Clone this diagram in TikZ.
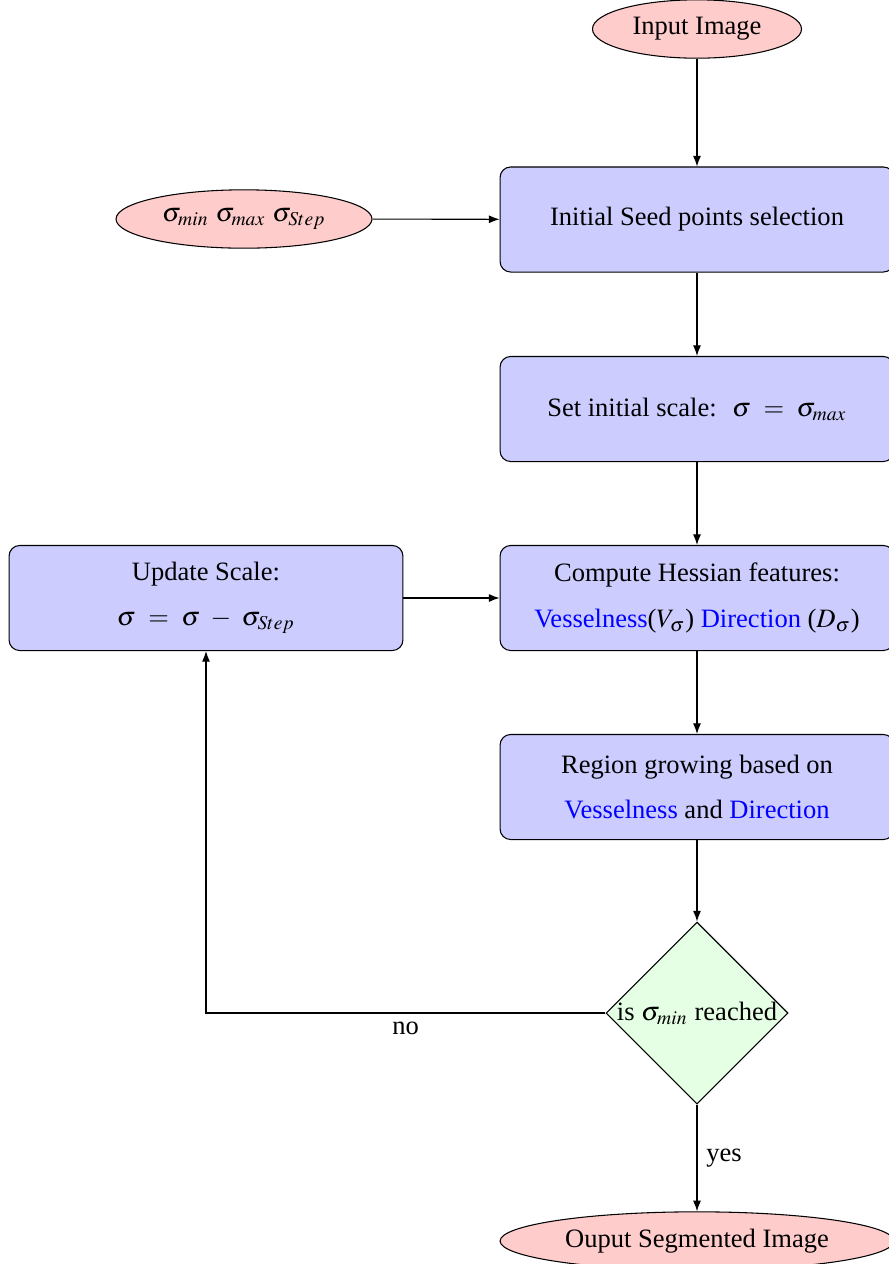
\documentclass[tikz,border=0pt]{standalone}
\usepackage{mathptmx}
\usepackage[no-math]{fontspec}
\setmainfont{Liberation Serif}
\usetikzlibrary{shapes.geometric, arrows.meta}

\tikzset{
    block/.style={rectangle, draw, fill=blue!20, rounded corners, align=center,
        minimum width=148.5pt, minimum height=39.6pt},
    cloud/.style={ellipse, draw, fill=red!20, inner sep=0pt, minimum height=22pt},
    decision/.style={diamond, draw, fill=green!10, inner sep=0pt, minimum size=68.6pt},
    line/.style={draw, -{Latex[length=4pt, width=3pt]}}
}

\begin{document}
\begin{tikzpicture}[x=0.377pt, y=-0.377pt]
        \useasboundingbox (0, 0) rectangle (889, 1264);
        % nodes
        \node [cloud, minimum width=78.8pt] (input) at (697, 29) {Input Image};
        \node [cloud, minimum width=96.5pt] (sigmas) at (244, 219)
            {$\sigma_{min}$ $\sigma_{max}$ $\sigma_{Step}$};
        \node [block] (seed) at (697, 219.5) {Initial Seed points selection};
        \node [block] (init) at (697, 409) {Set initial scale: \ $\sigma\ =\ \sigma_{max}$};
        \node [block] (hessian) at (697, 598)
            {Compute Hessian features:\\[5pt]
             \textcolor{blue}{Vesselness}($V_\sigma$) \textcolor{blue}{Direction} ($D_\sigma$)};
        \node [block] (update) at (206, 598)
            {Update Scale:\\[5pt] $\sigma\ =\ \sigma\ -\ \sigma_{Step}$};
        \node [block] (grow) at (697, 787)
            {Region growing based on\\[5pt]
             \textcolor{blue}{Vesselness} and \textcolor{blue}{Direction}};
        \node [decision] (check) at (697, 1013)
            {\makebox[0pt]{is $\sigma_{min}$ reached}};
        \node [cloud, minimum width=148.5pt] (output) at (697, 1241) {Ouput Segmented Image};
        % connectors
        \path [line] (input) -- (seed);
        \path [line] (sigmas) -- (seed);
        \path [line] (seed) -- (init);
        \path [line] (init) -- (hessian);
        \path [line] (update) -- (hessian);
        \path [line] (hessian) -- (grow);
        \path [line] (grow) -- (check);
        \path [line] (check) -| (update) node [pos=0.25, below] {no};
        \path [line] (check) -- node [right] {yes} (output);
    \end{tikzpicture}
\end{document}
